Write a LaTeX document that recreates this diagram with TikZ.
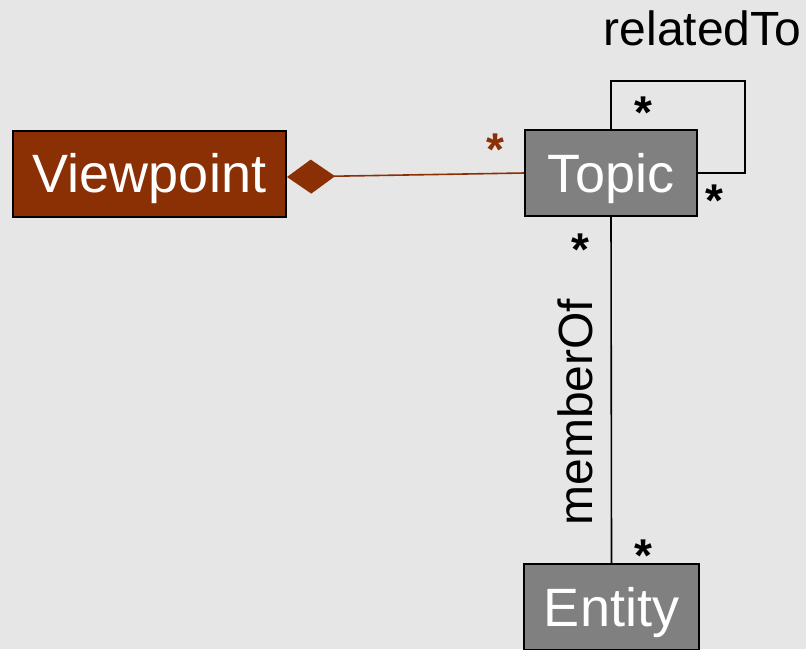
\documentclass[tikz,border=0pt]{standalone}
\usepackage{fontspec}
\setmainfont{Liberation Sans}
\usetikzlibrary{arrows.meta,calc}
\definecolor{rust}{RGB}{139,47,4}
\definecolor{canvas}{RGB}{230,230,230}
\tikzset{
  classbox/.style={draw=black, line width=1pt, text=white, inner sep=0pt,
                   minimum height=43pt, text height=19.3pt, text depth=0pt,
                   font=\fontsize{27}{32}\selectfont},
  assoc/.style={line width=0.8pt},
  mult/.style={font=\fontsize{23}{28}\selectfont\bfseries, anchor=base, yshift=-11.5pt, inner sep=0pt},
  rolelabel/.style={font=\fontsize{24}{29}\selectfont, inner sep=0pt}
}
\begin{document}
\begin{tikzpicture}[x=0.5pt,y=-0.5pt]

\pgfmathsetmacro{\loopup}{48}
\pgfmathsetmacro{\loopright}{47}

% Background:
\fill[canvas] (0,0) rectangle (806,649);
\useasboundingbox (0,0) rectangle (806,649);
\clip (0,0) rectangle (806,649);

% Classes:
\node[classbox, fill=rust, minimum width=136.5pt] (viewpoint) at (149.5,173.5) {Viewpoint};
\node[classbox, fill=gray, minimum width=86pt] (topic) at (611,173) {Topic};
\node[classbox, fill=gray, minimum width=87.5pt] (entity) at (611.5,607) {Entity};

% Composition:
\draw[assoc, rust, -{Diamond[length=24pt,width=17pt]}] (topic.west) -- ($(viewpoint.east)+(0,3.5)$);

% Self association:
\draw[assoc] (topic.north) -- ++(0,-\loopup) -| ($(topic.east)+(\loopright,0)$) -- (topic.east);
\node[rolelabel, anchor=base] (relatedto) at (702.5,45.7) {relatedTo};

% Membership:
\draw[assoc] (topic.south) -- (entity.north);
\node[rolelabel, rotate=90] (memberof) at (575,412) {memberOf};

% Multiplicities:
\node[mult, text=rust] (mviewpoint) at (495,142) {*};
\node[mult] (mloopstart) at (643,105) {*};
\node[mult] (mloopend) at (714,193) {*};
\node[mult] (mtopic) at (580,242) {*};
\node[mult] (mentity) at (643,548) {*};

\end{tikzpicture}
\end{document}
